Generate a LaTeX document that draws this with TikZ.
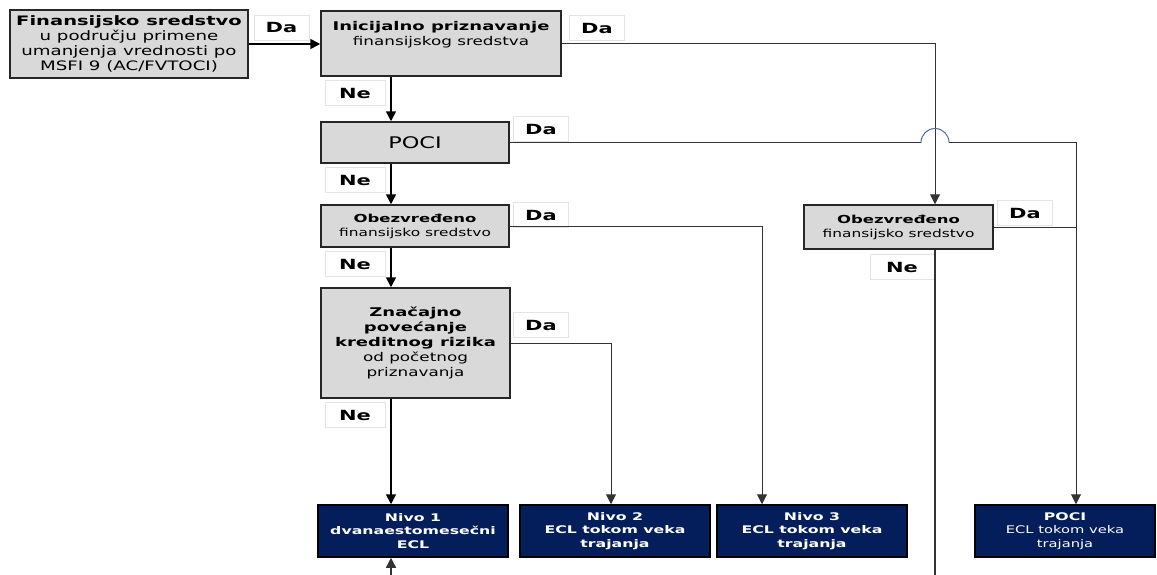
\documentclass[tikz,border=0pt]{standalone}
\usepackage{fontspec}
\setmainfont{DejaVu Sans}[FakeStretch=1.4,BoldFeatures={FakeStretch=1.5}]
\usetikzlibrary{arrows.meta}
\definecolor{boxgray}{RGB}{217,217,217}
\definecolor{navy}{RGB}{4,30,92}
\definecolor{hopblue}{RGB}{80,110,165}
\definecolor{tagline}{RGB}{228,228,228}

\begin{document}
\begin{tikzpicture}[x=1pt,y=-1pt,>={Triangle[length=10pt,width=10pt]},
        box/.style={draw=black!85,line width=1.5pt,fill=boxgray,align=center,inner sep=0pt},
        level/.style={draw=black,line width=1.5pt,fill=navy,text=white,align=center,inner sep=0pt,
            minimum width=190,minimum height=52,font=\fontsize{10.5}{13.5}\selectfont\bfseries},
        tag/.style={draw=tagline,fill=white,inner sep=0pt,minimum width=55,minimum height=25,
            font=\fontsize{14}{16}\selectfont\bfseries},
        flow/.style={->,line width=1.6pt},
        branch/.style={->,line width=1pt,draw=black!80},
        hop/.style={line width=1pt,draw=hopblue}]

  \useasboundingbox[fill=white] (0,0) rectangle (1157,574);

  \coordinate (spine) at (391,0);
  \coordinate (d2col) at (611,0);
  \coordinate (d3col) at (762,0);
  \coordinate (hopl) at (921,0);
  \coordinate (rcol) at (935,0);
  \coordinate (hopr) at (949,0);
  \coordinate (pcol) at (1076,0);
  \coordinate (floor) at (0,590);

  \node[box,minimum width=238,minimum height=68,font=\fontsize{13}{15}\selectfont] (asset) at (129,44)
    {\textbf{Finansijsko sredstvo}\\u području primene\\umanjenja vrednosti po\\MSFI 9 (AC/FVTOCI)};
  \node[box,minimum width=240,minimum height=65,font=\fontsize{12}{15}\selectfont] (initial) at (441,43.5)
    {\textbf{Inicijalno priznavanje}\\finansijskog sredstva\\[5pt]\mbox{}};
  \node[box,minimum width=188,minimum height=41,font=\fontsize{16}{20}\selectfont] (poci) at (415,142.5) {POCI};
  \node[box,minimum width=188,minimum height=42,font=\fontsize{11}{14}\selectfont] (impaired) at (415,226)
    {\textbf{Obezvređeno}\\finansijsko sredstvo};
  \node[box,minimum width=189,minimum height=110,font=\fontsize{12}{15}\selectfont] (sicr) at (415.5,343)
    {\textbf{Značajno}\\\textbf{povećanje}\\\textbf{kreditnog rizika}\\od početnog\\priznavanja};
  \node[box,minimum width=189,minimum height=44,font=\fontsize{11}{14}\selectfont] (impairedpoci) at (898.5,227)
    {\textbf{Obezvređeno}\\finansijsko sredstvo};

  \node[level] (stage1) at (413,531) {Nivo 1\\dvanaestomesečni\\ECL};
  \node[level] (stage2) at (615,531) {Nivo 2\\ECL tokom veka\\trajanja};
  \node[level] (stage3) at (812,531) {Nivo 3\\ECL tokom veka\\trajanja};
  \node[level,minimum width=180,font=\fontsize{10.5}{13.5}\selectfont] (stagepoci) at (1065,531)
    {\textbf{POCI}\\ECL tokom veka\\trajanja};

  \node[tag] (da1) at (281.5,27.5) {Da};
  \node[tag] (da2) at (597,28) {Da};
  \node[tag,minimum width=60] (ne1) at (355,93) {Ne};
  \node[tag] (da3) at (541,129) {Da};
  \node[tag,minimum width=60] (ne2) at (355,180) {Ne};
  \node[tag] (da4) at (541,215) {Da};
  \node[tag,minimum width=60] (ne3) at (355,264) {Ne};
  \node[tag] (da5) at (541,325) {Da};
  \node[tag,minimum width=60] (ne4) at (355,415) {Ne};
  \node[tag] (da6) at (1025,213) {Da};
  \node[tag,minimum width=64] (ne5) at (902,267) {Ne};

  \draw[flow] (asset.east) -- (asset.east -| initial.west);
  \draw[flow] (initial.south -| spine) -- (poci.north -| spine);
  \draw[flow] (poci.south -| spine) -- (impaired.north -| spine);
  \draw[flow] (impaired.south -| spine) -- (sicr.north -| spine);
  \draw[flow] (sicr.south -| spine) -- (stage1.north -| spine);

  \draw[branch] (initial.east) -| (impairedpoci.north -| rcol);
  \draw[branch] (impaired.east) -| (stage3.north -| d3col);
  \draw[branch] (sicr.east) -| (stage2.north -| d2col);
  \draw[branch,-] (poci.east) -- (poci.east -| hopl);
  \draw[hop] (poci.east -| hopl) arc[start angle=180,end angle=360,radius=14];
  \draw[branch] (poci.east -| hopr) -| (stagepoci.north -| pcol);
  \draw[branch,-] (impairedpoci.east) -- (impairedpoci.east -| pcol);
  \draw[branch,line width=1.3pt] (impairedpoci.south -| rcol) -- (rcol |- floor) -- (spine |- floor)
    -- (stage1.south -| spine);

\end{tikzpicture}
\end{document}
